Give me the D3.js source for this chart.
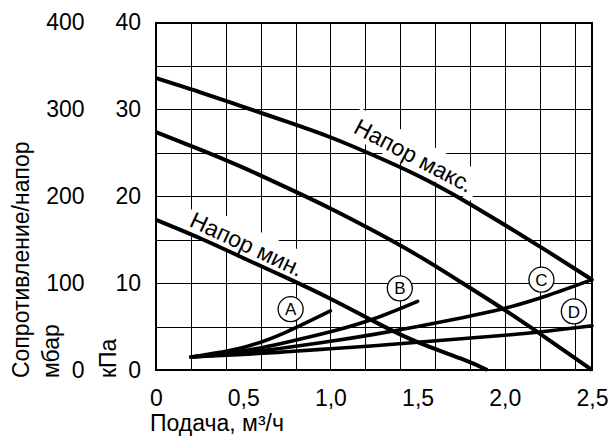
<!DOCTYPE html>
<html>
<head>
<meta charset="utf-8">
<title>Напор / сопротивление</title>
<script src="https://cdn.jsdelivr.net/npm/d3@7/dist/d3.min.js"></script>
<style>
    body { margin: 0; background: #fff; }
    svg text {
        font-family: Arial, 'Liberation Sans', sans-serif;
        font-size: 23px;
        fill: #000;
    }
    .grid line { stroke: #000; stroke-width: 1; shape-rendering: crispEdges; }
    .grid path { display: none; }
    .axis path, .axis line { display: none; }
    .head { fill: none; stroke: #000; stroke-width: 4; }
    .system { fill: none; stroke: #000; stroke-width: 3.6; stroke-linecap: round; }
    .badge circle { fill: #fff; stroke: #000; stroke-width: 1.3; }
    .badge text { font-size: 17px; text-anchor: middle; }
</style>
</head>
<body>
<div id="chart"></div>
<script>
// flow in m3/h, head / resistance in kPa
var flowTicks = [0, 0.5, 1.0, 1.5, 2.0, 2.5];
var kpaTicks = [0, 10, 20, 30, 40];
var mbarTicks = [0, 100, 200, 300, 400];

var headMax = [[0, 33.6], [0.25, 32.0], [0.5, 30.3], [0.75, 28.6], [1.0, 26.8], [1.25, 24.7],
               [1.5, 22.4], [1.75, 19.7], [2.0, 16.7], [2.25, 13.6], [2.5, 10.4]];
var headMid = [[0, 27.4], [0.25, 25.4], [0.5, 23.3], [0.75, 21.0], [1.0, 18.6], [1.25, 16.0],
               [1.5, 13.2], [1.75, 10.1], [2.0, 6.9], [2.25, 3.5], [2.5, 0]];
var headMin = [[0, 17.3], [0.25, 15.2], [0.5, 12.9], [0.75, 10.6], [1.0, 8.2], [1.25, 5.6],
               [1.5, 3.2], [1.75, 1.3], [1.9, 0]];

var systemA = [[0.2, 1.5], [0.5, 2.6], [0.75, 4.4], [1.0, 6.8]];
var systemB = [[0.2, 1.5], [0.5, 2.2], [0.75, 3.2], [1.0, 4.4], [1.25, 5.9], [1.5, 7.9]];
var systemC = [[0.2, 1.5], [0.5, 2.0], [0.75, 2.6], [1.0, 3.3], [1.25, 4.1], [1.5, 5.0],
               [1.75, 6.0], [2.0, 7.1], [2.25, 8.6], [2.5, 10.4]];
var systemD = [[0.2, 1.5], [0.5, 1.8], [0.75, 2.1], [1.0, 2.45], [1.25, 2.8], [1.5, 3.2],
               [1.75, 3.6], [2.0, 4.0], [2.25, 4.5], [2.5, 5.1]];

var systemNames = ['A', 'B', 'C', 'D'];

var WIDTH = 610, HEIGHT = 437;
var LEFT = 156, RIGHT = 592, TOP = 22.6, BOTTOM = 370;

var svg = d3.select('#chart').append('svg')
    .attr('width', WIDTH)
    .attr('height', HEIGHT);

var x = d3.scaleLinear().domain([0, 2.5]).range([LEFT, RIGHT]);
var y = d3.scaleLinear().domain([0, 40]).range([BOTTOM, TOP]);
var yMbar = d3.scaleLinear().domain([0, 400]).range([BOTTOM, TOP]);

var gridLayer = svg.append('g').attr('class', 'grid');
var boxLayer = svg.append('g');
var curveLayer = svg.append('g');
var labelLayer = svg.append('g');

// grid: 0.25 m3/h by 5 kPa
gridLayer.append('g')
    .attr('transform', 'translate(0,' + BOTTOM + ')')
    .call(d3.axisBottom(x).ticks(10).tickSize(-(BOTTOM - TOP)).tickFormat(''));
gridLayer.append('g')
    .attr('transform', 'translate(' + LEFT + ',0)')
    .call(d3.axisLeft(y).ticks(8).tickSize(-(RIGHT - LEFT)).tickFormat(''));
gridLayer.append('rect')
    .attr('x', LEFT).attr('y', TOP)
    .attr('width', RIGHT - LEFT).attr('height', BOTTOM - TOP)
    .attr('fill', 'none').attr('stroke', '#000').attr('stroke-width', 1.5)
    .attr('shape-rendering', 'crispEdges');

// tick labels
var comma = function(d) { return d === 0 ? '0' : d3.format('.1f')(d).replace('.', ','); };
svg.append('g').attr('class', 'axis')
    .attr('transform', 'translate(0,' + BOTTOM + ')')
    .call(d3.axisBottom(x).tickValues(flowTicks).tickSize(0).tickPadding(20).tickFormat(comma));
svg.append('g').attr('class', 'axis')
    .attr('transform', 'translate(' + LEFT + ',0)')
    .call(d3.axisLeft(y).tickValues(kpaTicks).tickSize(0).tickPadding(15));
svg.append('g').attr('class', 'axis')
    .attr('transform', 'translate(' + LEFT + ',0)')
    .call(d3.axisLeft(yMbar).tickValues(mbarTicks).tickSize(0).tickPadding(71.5));
svg.selectAll('.axis text').attr('font-size', null);

// axis titles
svg.append('text').attr('transform', 'translate(29,378) rotate(-90)').text('Сопротивление/напор');
svg.append('text').attr('transform', 'translate(59,378) rotate(-90)').text('мбар');
svg.append('text').attr('transform', 'translate(116,378) rotate(-90)').text('кПа');
svg.append('text').attr('x', 150).attr('y', 431).text('Подача, м³/ч');

// curves
var line = d3.line()
    .x(function(d) { return x(d[0]); })
    .y(function(d) { return y(d[1]); })
    .curve(d3.curveNatural);

curveLayer.selectAll('path.head')
    .data([headMax, headMid, headMin])
    .enter().append('path')
    .attr('class', 'head')
    .attr('d', line);

curveLayer.selectAll('path.system')
    .data([systemA, systemB, systemC, systemD])
    .enter().append('path')
    .attr('class', 'system')
    .attr('d', line);

// rotated curve labels with a white box behind them
var curveLabels = [
    { text: 'Напор макс.', at: [1.126, 27.4], angle: 28 },
    { text: 'Напор мин.', at: [0.185, 16.6], angle: 25 }
];
curveLabels.forEach(function(c) {
    var tr = 'translate(' + x(c.at[0]) + ',' + y(c.at[1]) + ') rotate(' + c.angle + ')';
    var t = labelLayer.append('text').attr('transform', tr).text(c.text);
    var len = t.node().getComputedTextLength();
    boxLayer.append('rect')
        .attr('transform', tr)
        .attr('x', -4).attr('y', -25)
        .attr('width', len + 10).attr('height', 30)
        .attr('fill', '#fff');
});

// circled system labels
var badgeAt = [[0.772, 7.0], [1.398, 9.4], [2.21, 10.4], [2.396, 6.75]];
var badge = labelLayer.selectAll('g.badge')
    .data(systemNames)
    .enter().append('g')
    .attr('class', 'badge')
    .attr('transform', function(d, i) {
        return 'translate(' + x(badgeAt[i][0]) + ',' + y(badgeAt[i][1]) + ')';
    });
badge.append('circle').attr('r', 12.5);
badge.append('text').attr('dy', '0.36em').text(function(d) { return d; });
</script>
</body>
</html>
